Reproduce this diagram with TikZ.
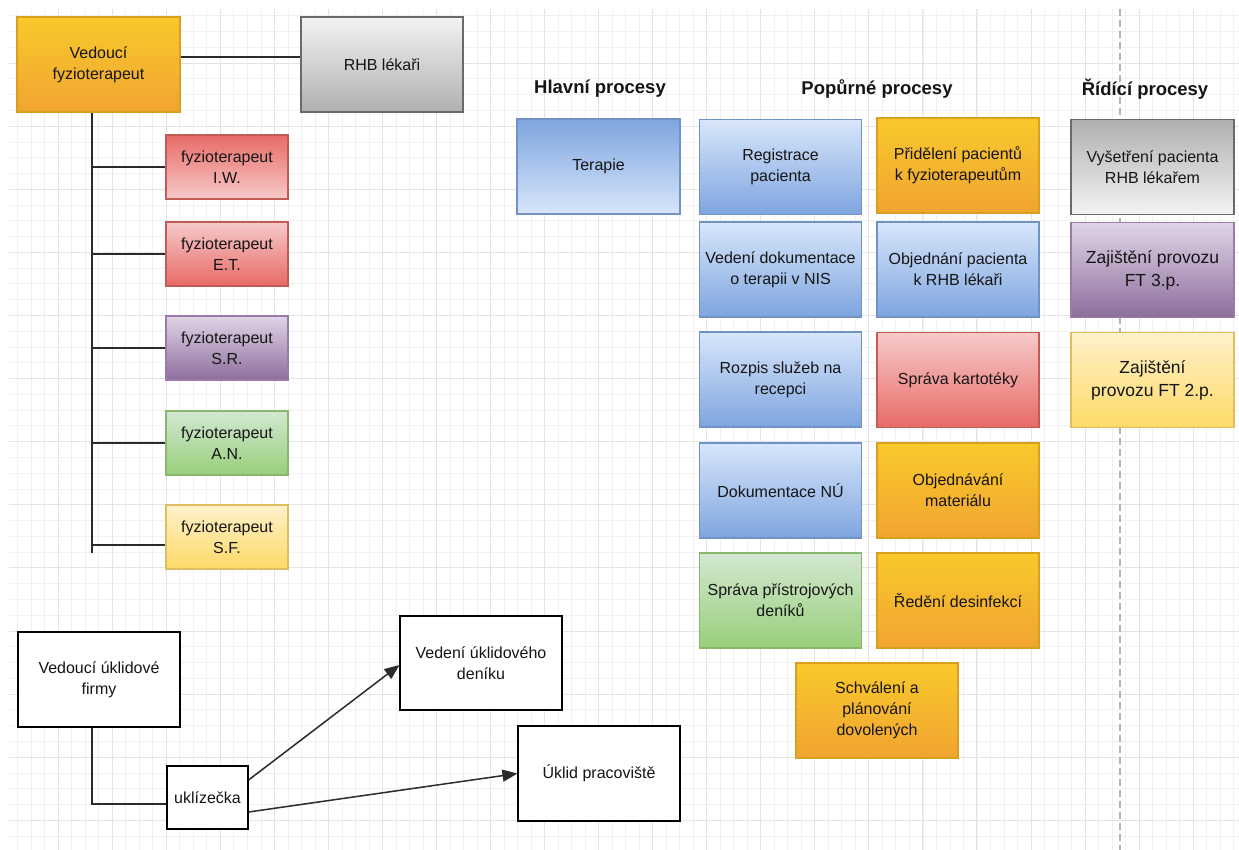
\documentclass[tikz,border=0pt]{standalone}
\usepackage{fontspec}
\setmainfont{Liberation Sans}
\usetikzlibrary{arrows.meta}

% palette: light top / dark bottom pairs and stroke colours
\definecolor{txt}{HTML}{151515}
\definecolor{lnc}{HTML}{2B2B2B}
\definecolor{orT}{HTML}{F9C92C}
\definecolor{orB}{HTML}{F1A431}
\definecolor{orS}{HTML}{D9A020}
\definecolor{rdT}{HTML}{F6CACA}
\definecolor{rdB}{HTML}{E86A66}
\definecolor{rdS}{HTML}{C25A56}
\definecolor{gyT}{HTML}{F3F3F3}
\definecolor{gyB}{HTML}{B0B0B0}
\definecolor{gyS}{HTML}{6A6A6A}
\definecolor{blT}{HTML}{D8E6FB}
\definecolor{blB}{HTML}{7EA5DF}
\definecolor{blS}{HTML}{7193C4}
\definecolor{gnT}{HTML}{D3E7D2}
\definecolor{gnB}{HTML}{98CF7A}
\definecolor{gnS}{HTML}{88B86C}
\definecolor{puT}{HTML}{E0D4E6}
\definecolor{puB}{HTML}{8D6E9D}
\definecolor{puS}{HTML}{9B7AAA}
\definecolor{ywT}{HTML}{FFF1CB}
\definecolor{ywB}{HTML}{FDD966}
\definecolor{ywS}{HTML}{DDBE60}
\definecolor{gridmaj}{HTML}{E4E4E4}
\definecolor{gridmin}{HTML}{F1F1F1}
\definecolor{dashc}{HTML}{B4B4B4}

\newcommand{\boxfont}{\fontsize{16}{21}\selectfont}
\newcommand{\bigboxfont}{\fontsize{17.5}{23}\selectfont}
\newcommand{\headfont}{\fontsize{18.5}{22}\selectfont\bfseries}

\tikzset{
  box/.style={rectangle, draw, line width=1.1pt, inner sep=2pt, align=center,
    text=txt, font=\boxfont, minimum width=162pt, minimum height=95pt},
  smallbox/.style={box, minimum width=122pt, minimum height=64pt},
  plainbox/.style={box, draw=black, fill=white},
  head/.style={text=txt, font=\headfont, inner sep=0pt},
  orangeg/.style={top color=orT, bottom color=orB, draw=orS},
  redg/.style={top color=rdT, bottom color=rdB, draw=rdS},
  redrev/.style={top color=rdB, bottom color=rdT, draw=rdS},
  grayg/.style={top color=gyT, bottom color=gyB, draw=gyS},
  grayrev/.style={top color=gyB, bottom color=gyT, draw=gyS},
  blueg/.style={top color=blT, bottom color=blB, draw=blS},
  bluerev/.style={top color=blB, bottom color=blT, draw=blS},
  greeng/.style={top color=gnT, bottom color=gnB, draw=gnS},
  purpleg/.style={top color=puT, bottom color=puB, draw=puS},
  yellowg/.style={top color=ywT, bottom color=ywB, draw=ywS},
  link/.style={draw=lnc, line width=1.5pt},
  arrowlink/.style={link, -{Triangle[length=15pt,width=12pt]}},
  gridminor/.style={draw=gridmin, line width=0.9pt},
  gridmajor/.style={draw=gridmaj, line width=1pt},
}

\begin{document}
\begin{tikzpicture}[x=1pt,y=-1pt]
  \useasboundingbox (0,0) rectangle (1239,850);
  \fill[white] (0,0) rectangle (1239,850);

  % background grid
  \foreach \i in {1,...,91} {
    \draw[gridminor] ({4.26+13.51*\i},9) -- ({4.26+13.51*\i},850);
  }
  \foreach \i in {1,...,53} {
    \draw[gridminor] (9,{15.775*\i}) -- (1239,{15.775*\i});
  }
  \foreach \i in {1,...,22} {
    \draw[gridmajor] ({4.26+54.04*\i},9) -- ({4.26+54.04*\i},850);
  }
  \foreach \i in {1,...,13} {
    \draw[gridmajor] (9,{63.1*\i}) -- (1239,{63.1*\i});
  }

  % dashed separator
  \coordinate (sepTop) at (1120,9);
  \coordinate (sepBot) at (1120,850);
  \draw[dashc, line width=1.3pt, dash pattern=on 7pt off 4pt] (sepTop) -- (sepBot);

  % physiotherapy department
  \node[box, orangeg, minimum width=163pt] (vf) at (98.5,64.5) {Vedoucí\\fyzioterapeut};
  \node[box, grayg] (rhb) at (382,64.5) {RHB lékaři};
  \node[smallbox, redrev] (iw) at (227,167) {fyzioterapeut\\I.W.};
  \node[smallbox, redg] (et) at (227,254) {fyzioterapeut\\E.T.};
  \node[smallbox, purpleg] (sr) at (227,348) {fyzioterapeut\\S.R.};
  \node[smallbox, greeng] (an) at (227,443) {fyzioterapeut\\A.N.};
  \node[smallbox, yellowg] (sf) at (227,537) {fyzioterapeut\\S.F.};

  \coordinate (trunkEnd) at (92,553);
  \draw[link] ([yshift=7.5pt]vf.east) -- ([yshift=7.5pt]rhb.west);
  \draw[link] (vf.south -| trunkEnd) -- (trunkEnd);
  \draw[link] (iw.west -| trunkEnd) -- (iw.west);
  \draw[link] (et.west -| trunkEnd) -- (et.west);
  \draw[link] (sr.west -| trunkEnd) -- (sr.west);
  \draw[link] (an.west -| trunkEnd) -- (an.west);
  \draw[link] ([yshift=-8pt]sf.west -| trunkEnd) -- ([yshift=-8pt]sf.west);

  % process headings
  \node[head] (hHlavni) at (600,89) {Hlavní procesy};
  \node[head] (hPopurne) at (877,89) {Popůrné procesy};
  \node[head] (hRidici) at (1145,89) {Řídící procesy};

  % main processes
  \node[box, bluerev, minimum width=163pt] (terapie) at (598.5,166.5) {Terapie};

  % supporting processes
  \node[box, blueg] (registrace) at (780.5,167) {Registrace\\pacienta};
  \node[box, blueg] (dokNis) at (780.5,269.5) {Vedení dokumentace\\o terapii v NIS};
  \node[box, blueg] (rozpis) at (780.5,379.5) {Rozpis služeb na\\recepci};
  \node[box, blueg] (dokNu) at (780.5,490.5) {Dokumentace NÚ};
  \node[box, greeng] (pristroje) at (780.5,600.5) {Správa přístrojových\\deníků};

  \node[box, orangeg] (prideleni) at (958,165.5) {Přidělení pacientů\\k fyzioterapeutům};
  \node[box, blueg] (objednani) at (958,269.5) {Objednání pacienta\\k RHB lékaři};
  \node[box, redg] (kartoteka) at (958,380) {Správa kartotéky};
  \node[box, orangeg] (material) at (958,490.5) {Objednávání\\materiálu};
  \node[box, orangeg] (desinfekce) at (958,600.5) {Ředění desinfekcí};
  \node[box, orangeg] (dovolene) at (877,710.5) {Schválení a\\plánování\\dovolených};

  % management processes
  \node[box, grayrev, minimum width=163pt] (vysetreni) at (1152.5,167) {Vyšetření pacienta\\RHB lékařem};
  \node[box, purpleg, minimum width=163pt, font=\bigboxfont] (ft3) at (1152.5,270) {Zajištění provozu\\FT 3.p.};
  \node[box, yellowg, minimum width=163pt, font=\bigboxfont] (ft2) at (1152.5,380) {Zajištění\\provozu FT 2.p.};

  % cleaning company
  \node[plainbox] (vuf) at (99,679.5) {Vedoucí úklidové\\firmy};
  \node[plainbox, minimum width=81pt, minimum height=63pt] (ukl) at (207.5,797.5) {uklízečka};
  \node[plainbox, minimum height=94pt] (denik) at (481,663) {Vedení úklidového\\deníku};
  \node[plainbox] (uklid) at (599,773.5) {Úklid pracoviště};

  \draw[link] ([xshift=-7pt]vuf.south) |- ([yshift=-6.5pt]ukl.west);
  \draw[arrowlink] ([yshift=17.5pt]ukl.east) -- ([yshift=-2pt]denik.west);
  \draw[arrowlink] ([yshift=-14.5pt]ukl.east) -- (uklid.west);
\end{tikzpicture}
\end{document}
